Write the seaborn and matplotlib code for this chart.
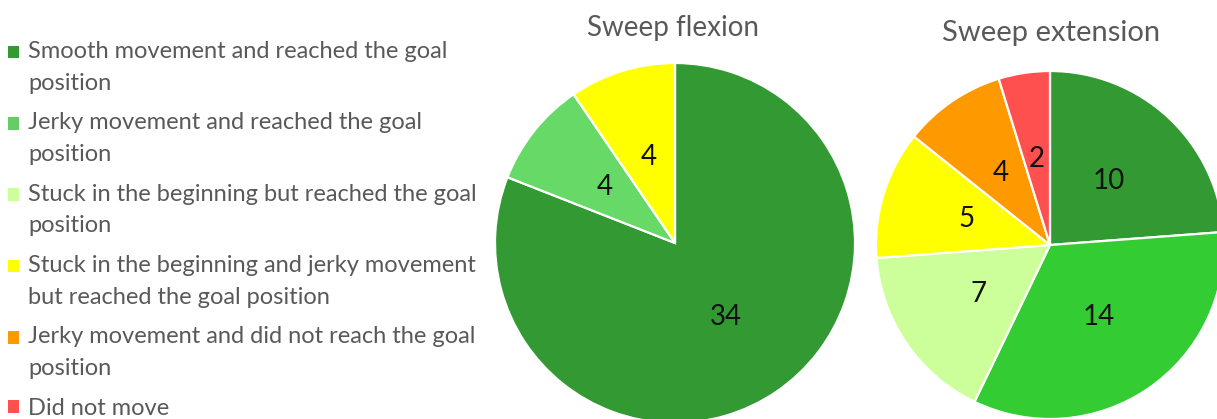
import matplotlib
matplotlib.use("Agg")
import matplotlib.pyplot as plt
import seaborn as sns
from matplotlib.patches import Patch, Rectangle
from matplotlib.legend_handler import HandlerPatch

# ---------------- data ----------------
categories = [
    "Smooth movement and reached the goal position",
    "Jerky movement and reached the goal position",
    "Stuck in the beginning but reached the goal position",
    "Stuck in the beginning and jerky movement but reached the goal position",
    "Jerky movement and did not reach the goal position",
    "Did not move",
]
legend_labels = [
    "Smooth movement and reached the goal\nposition",
    "Jerky movement and reached the goal\nposition",
    "Stuck in the beginning but reached the goal\nposition",
    "Stuck in the beginning and jerky movement\nbut reached the goal position",
    "Jerky movement and did not reach the goal\nposition",
    "Did not move",
]
flexion_values = [34, 4, 0, 4, 0, 0]
extension_values = [10, 14, 7, 5, 4, 2]
chart_titles = ["Sweep flexion", "Sweep extension"]

legend_colors = ["#339933", "#66cc66", "#ccff99", "#ffff00", "#ff9900", "#ff5050"]
flexion_colors = ["#339933", "#66d966", "#ccff99", "#ffff00", "#ff9900", "#ff5050"]
extension_colors = ["#339933", "#33cc33", "#ccff99", "#ffff00", "#ff9900", "#ff5050"]

# ---------------- style ----------------
sns.set_theme(style="white")
plt.rcParams["font.family"] = ["Lato", "DejaVu Sans"]

W, H = 1217, 419
fig = plt.figure(figsize=(W / 100, H / 100), dpi=100)
fig.patch.set_facecolor("white")


def px_axes(cx, cy, r):
    """axes whose [-1,1] box maps to a circle of radius r (px) centred at (cx, cy) from top-left"""
    return fig.add_axes([(cx - r) / W, (H - cy - r) / H, 2 * r / W, 2 * r / H])


def draw_pie(ax, values, colors):
    vals = [v for v in values if v > 0]
    cols = [c for v, c in zip(values, colors) if v > 0]
    total = sum(vals)
    ax.pie(
        vals,
        colors=cols,
        startangle=90,
        counterclock=False,
        radius=1.0,
        autopct=lambda p: f"{round(p * total / 100):d}",
        pctdistance=0.5,
        wedgeprops=dict(edgecolor="white", linewidth=1.6),
        textprops=dict(color="#111111", fontsize=20),
    )
    ax.set_xlim(-1, 1)
    ax.set_ylim(-1, 1)
    ax.set_axis_off()


ax1 = px_axes(675, 243, 180)
draw_pie(ax1, flexion_values, flexion_colors)
ax2 = px_axes(1050, 245, 174)
draw_pie(ax2, extension_values, extension_colors)

fig.text(673 / W, 1 - 28 / H, chart_titles[0], ha="center", va="center",
         fontsize=20, color="#595959")
fig.text(1051 / W, 1 - 33 / H, chart_titles[1], ha="center", va="center",
         fontsize=21, color="#595959")

# ---------------- legend ----------------
handles = [Patch(facecolor=c, edgecolor="none") for c in legend_colors]
LINESP = 1.63


def make_handler(nlines):
    def patch_func(legend, orig_handle, xdescent, ydescent, width, height, fontsize):
        off = 0.66 * fontsize * (nlines - 1)
        return Rectangle((-xdescent, -ydescent + off), width, height)
    return HandlerPatch(patch_func=patch_func)


hmap = {h: make_handler(lbl.count("\n") + 1) for h, lbl in zip(handles, legend_labels)}

leg = fig.legend(
    handles, legend_labels,
    loc="upper left", bbox_to_anchor=(8 / W, 1 - 41 / H),
    frameon=False, fontsize=17, labelcolor="#595959",
    handlelength=0.45, handleheight=0.45, handletextpad=0.4,
    labelspacing=0.79, borderpad=0, borderaxespad=0,
    handler_map=hmap,
)
for t in leg.texts:
    t.set_linespacing(LINESP)

fig.savefig("out.png", dpi=100)
